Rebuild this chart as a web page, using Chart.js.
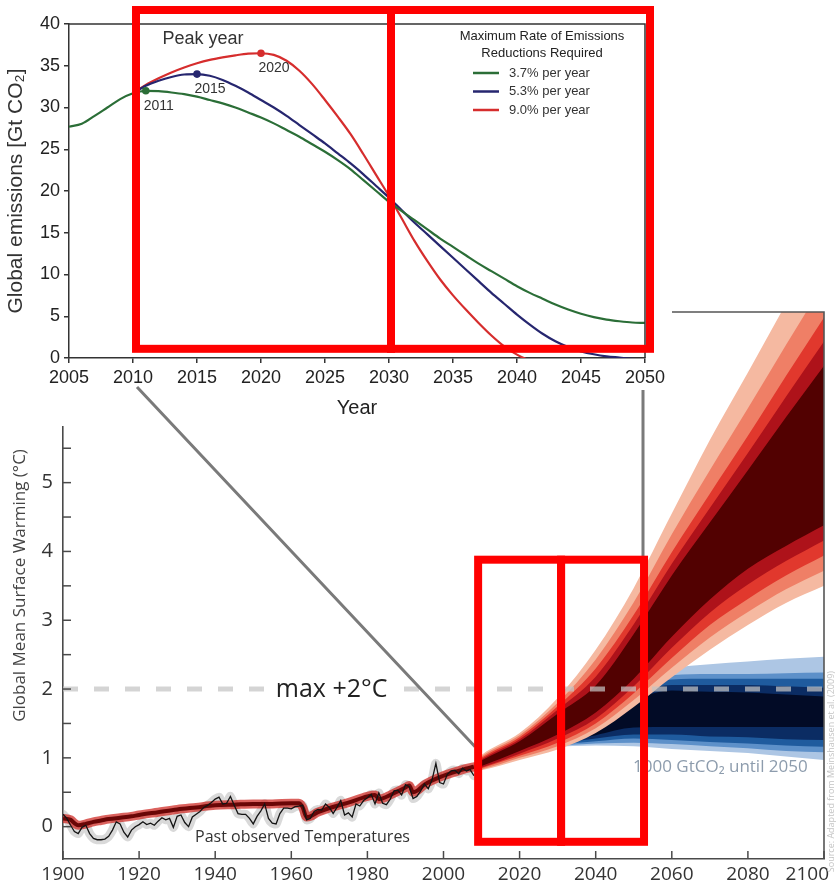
<!DOCTYPE html>
<html lang="en">
<head>
<meta charset="utf-8">
<title>Emission pathways and global mean surface warming</title>
<script src="https://cdn.jsdelivr.net/npm/chart.js@4.4.1/dist/chart.umd.min.js"></script>
<style>
  html, body { margin: 0; padding: 0; background: #fff; }
  #stage { position: relative; width: 836px; height: 886px; overflow: hidden; }
  #stage canvas { position: absolute; left: 0; top: 0; }
</style>
</head>
<body>
<div id="stage">
  <canvas id="warming" width="836" height="886" style="width:836px;height:886px"></canvas>
  <canvas id="emissions" width="836" height="886" style="width:836px;height:886px"></canvas>
</div>
<script>
// ---------- Upper panel: global CO2 emission pathways (Gt CO2 per year) ----------
const emissionYears = [2005, 2006, 2007, 2008, 2009, 2010, 2011, 2012, 2013, 2014,
  2015, 2016, 2017, 2018, 2019, 2020, 2021, 2022, 2023, 2024,
  2025, 2026, 2027, 2028, 2029, 2030, 2031, 2032, 2033, 2034,
  2035, 2036, 2037, 2038, 2039, 2040, 2041, 2042, 2043, 2044,
  2045, 2046, 2047, 2048, 2049, 2050];
const pathway37 = [27.7, 28.05, 29.0, 30.0, 31.0, 31.7, 32.0, 31.95, 31.8, 31.6,
  31.3, 30.9, 30.5, 30.0, 29.4, 28.8, 28.1, 27.3, 26.5, 25.6,
  24.7, 23.7, 22.6, 21.3, 20.0, 18.7, 17.6, 16.5, 15.4, 14.3,
  13.3, 12.3, 11.3, 10.4, 9.5, 8.6, 7.8, 7.1, 6.4, 5.8,
  5.3, 4.9, 4.6, 4.4, 4.25, 4.2];
const pathway53 = [null, null, null, null, null, 31.7, 32.6, 33.2, 33.65, 33.95,
  34.0, 33.8, 33.3, 32.6, 31.8, 30.9, 30.0, 29.0, 27.9, 26.8,
  25.7, 24.5, 23.3, 22.0, 20.6, 19.2, 17.7, 16.2, 14.8, 13.4,
  12.0, 10.6, 9.2, 7.8, 6.5, 5.2, 4.0, 2.9, 2.0, 1.3,
  0.8, 0.45, 0.2, 0.05, -0.1, -0.2];
const pathway90 = [null, null, null, null, null, 31.7, 32.7, 33.5, 34.2, 34.8,
  35.3, 35.7, 36.0, 36.25, 36.45, 36.5, 36.3, 35.6, 34.4, 32.8,
  30.9, 28.9, 26.8, 24.4, 21.9, 19.4, 16.7, 14.0, 11.6, 9.4,
  7.5, 5.8, 4.2, 2.7, 1.4, 0.4, -0.3, -0.8, -1.2, -1.5,
  -1.7, -1.9, -2.0, -2.1, -2.2, -2.3];
const pathwayLabels = ['3.7% per year', '5.3% per year', '9.0% per year'];
const pathwayColors = ['#2b6e37', '#26266f', '#d62d2d'];
const peakYears = [2011, 2015, 2020];
const emissionTicksX = [2005, 2010, 2015, 2020, 2025, 2030, 2035, 2040, 2045, 2050];
const emissionTicksY = [0, 5, 10, 15, 20, 25, 30, 35, 40];
const legendTitle = ['Maximum Rate of Emissions', 'Reductions Required'];

// ---------- Lower panel: global mean surface warming (°C) ----------
const observedStart = 1900;
const observedWarming = [
  0.18, 0.12, 0.02, -0.07, -0.10, -0.01, 0.02, -0.10, -0.17, -0.19,   // 1900s
  -0.19, -0.18, -0.14, -0.05, 0.07, 0.04, -0.08, -0.15, -0.05, 0.00,  // 1910s
  0.03, 0.07, 0.03, 0.05, 0.02, 0.08, 0.13, 0.10, 0.12, -0.01,        // 1920s
  0.15, 0.17, 0.06, 0.00, 0.14, 0.18, 0.22, 0.28, 0.31, 0.35,         // 1930s
  0.40, 0.43, 0.33, 0.34, 0.44, 0.31, 0.19, 0.18, 0.18, 0.12,         // 1940s
  0.04, 0.15, 0.23, 0.33, 0.12, 0.05, 0.04, 0.19, 0.27, 0.27,         // 1950s
  0.26, 0.29, 0.30, 0.31, 0.10, 0.12, 0.22, 0.25, 0.24, 0.33,         // 1960s
  0.28, 0.19, 0.28, 0.38, 0.17, 0.20, 0.14, 0.33, 0.30, 0.38,         // 1970s
  0.42, 0.47, 0.33, 0.49, 0.34, 0.32, 0.40, 0.52, 0.53, 0.46,         // 1980s
  0.61, 0.58, 0.41, 0.44, 0.52, 0.62, 0.55, 0.68, 0.92, 0.64,         // 1990s
  0.62, 0.76, 0.81, 0.82, 0.77, 0.85, 0.81, 0.83, 0.74                // 2000s
];
const modelYears = [1900, 1902, 1903, 1904, 1906, 1908, 1910, 1912, 1915, 1918,
  1920, 1925, 1930, 1935, 1940, 1945, 1950, 1955, 1960, 1962,
  1963, 1964, 1965, 1967, 1970, 1975, 1980, 1982, 1983, 1984,
  1986, 1990, 1991, 1992, 1993, 1995, 2000, 2005, 2008];
const modelWarming = [0.12, 0.10, 0.05, 0.02, 0.04, 0.07, 0.09, 0.11, 0.13, 0.15,
  0.17, 0.21, 0.25, 0.28, 0.31, 0.32, 0.33, 0.33, 0.34, 0.34,
  0.28, 0.14, 0.15, 0.21, 0.27, 0.35, 0.44, 0.46, 0.40, 0.41,
  0.46, 0.57, 0.60, 0.50, 0.52, 0.61, 0.74, 0.83, 0.87];

// business-as-usual projection: nested probability bands, outer (1) to inner (5)
const redFanYears = [2008, 2010, 2020, 2030, 2040, 2050, 2060, 2070, 2080, 2090, 2100];
const redLow1  = [0.80, 0.82, 0.97, 1.12, 1.36, 1.74, 2.17, 2.57, 2.93, 3.25, 3.50];
const redLow2  = [0.81, 0.83, 1.00, 1.17, 1.43, 1.84, 2.31, 2.75, 3.12, 3.45, 3.72];
const redLow3  = [0.82, 0.85, 1.03, 1.22, 1.50, 1.94, 2.45, 2.93, 3.31, 3.65, 3.94];
const redLow4  = [0.83, 0.86, 1.06, 1.28, 1.57, 2.04, 2.60, 3.11, 3.52, 3.86, 4.16];
const redLow5  = [0.84, 0.88, 1.10, 1.34, 1.66, 2.15, 2.76, 3.30, 3.75, 4.08, 4.38];
const redHigh5 = [0.89, 0.96, 1.24, 1.64, 2.05, 2.80, 3.65, 4.42, 5.18, 5.95, 6.70];
const redHigh4 = [0.90, 0.98, 1.27, 1.70, 2.18, 2.94, 3.82, 4.63, 5.43, 6.25, 7.05];
const redHigh3 = [0.91, 1.00, 1.30, 1.75, 2.30, 3.08, 3.99, 4.84, 5.68, 6.55, 7.40];
const redHigh2 = [0.92, 1.02, 1.33, 1.80, 2.43, 3.26, 4.25, 5.18, 6.08, 7.00, 7.90];
const redHigh1 = [0.93, 1.04, 1.36, 1.87, 2.57, 3.47, 4.55, 5.62, 6.60, 7.60, 8.60];
const redColors = ['#f5b9a1', '#ef7f66', '#e1382d', '#ae121a', '#520101'];

// 1000 GtCO2 budget projection
const blueFanYears = [2028, 2040, 2050, 2060, 2070, 2080, 2090, 2100];
const blueLow1  = [1.16, 1.18, 1.17, 1.13, 1.10, 1.07, 1.02, 0.97];
const blueLow2  = [1.17, 1.21, 1.22, 1.20, 1.17, 1.14, 1.10, 1.08];
const blueLow3  = [1.18, 1.24, 1.28, 1.26, 1.23, 1.21, 1.18, 1.16];
const blueLow4  = [1.19, 1.28, 1.34, 1.34, 1.31, 1.30, 1.27, 1.26];
const blueLow5  = [1.20, 1.33, 1.44, 1.45, 1.45, 1.45, 1.45, 1.45];
const blueHigh5 = [1.24, 1.62, 1.85, 1.98, 1.96, 1.95, 1.92, 1.89];
const blueHigh4 = [1.25, 1.66, 1.92, 2.06, 2.06, 2.06, 2.04, 2.02];
const blueHigh3 = [1.26, 1.70, 1.98, 2.14, 2.15, 2.15, 2.15, 2.15];
const blueHigh2 = [1.27, 1.74, 2.05, 2.20, 2.22, 2.22, 2.23, 2.24];
const blueHigh1 = [1.28, 1.80, 2.14, 2.30, 2.36, 2.40, 2.44, 2.47];
const blueColors = ['#adc6e4', '#5d90c9', '#1f5b9e', '#0b2c63', '#020b26'];

const limitYears = [1900, 2100];
const limitWarming = [2, 2];
const warmingTicksX = [1900, 1920, 1940, 1960, 1980, 2000, 2020, 2040, 2060, 2080, 2100];
const warmingTicksY = [0, 0.5, 1, 1.5, 2, 2.5, 3, 3.5, 4, 4.5, 5, 5.5, 6, 6.5, 7];

// ---------- helpers ----------
const FONT_TOP = "'Liberation Sans', Arial, sans-serif";
const FONT_LOW = "'Open Sans', 'DejaVu Sans', sans-serif";
const pts = (xs, ys) => xs.map((x, i) => ({ x, y: ys[i] }));

// ---------- lower chart datasets ----------
const warmingDatasets = [];
function addBand(years, lo, hi, color, order) {
  const loIndex = warmingDatasets.length;
  const common = { pointRadius: 0, borderWidth: 0, borderColor: 'transparent',
                   cubicInterpolationMode: 'monotone', order };
  warmingDatasets.push(Object.assign({ data: pts(years, lo), fill: false }, common));
  warmingDatasets.push(Object.assign({ data: pts(years, hi), fill: { target: loIndex },
                                       backgroundColor: color }, common));
}
const blueLows = [blueLow1, blueLow2, blueLow3, blueLow4, blueLow5];
const blueHighs = [blueHigh1, blueHigh2, blueHigh3, blueHigh4, blueHigh5];
blueLows.forEach((lo, k) => addBand(blueFanYears, lo, blueHighs[k], blueColors[k], 95 - k));
const redLows = [redLow1, redLow2, redLow3, redLow4, redLow5];
const redHighs = [redHigh1, redHigh2, redHigh3, redHigh4, redHigh5];
redLows.forEach((lo, k) => addBand(redFanYears, lo, redHighs[k], redColors[k], 85 - k));

const observedYears = observedWarming.map((_, i) => observedStart + i);
warmingDatasets.push({ // spread of the observational record
  data: pts(observedYears, observedWarming), borderColor: 'rgba(170,170,170,0.45)',
  borderWidth: 9, pointRadius: 0, tension: 0.2, order: 30,
  borderJoinStyle: 'round', borderCapStyle: 'round' });
warmingDatasets.push({ // model ensemble, outer
  data: pts(modelYears, modelWarming), borderColor: 'rgba(205,38,32,0.72)',
  borderWidth: 9, pointRadius: 0, cubicInterpolationMode: 'monotone', order: 25,
  borderCapStyle: 'round' });
warmingDatasets.push({ // model ensemble, core
  data: pts(modelYears, modelWarming), borderColor: '#6a0606',
  borderWidth: 4, pointRadius: 0, cubicInterpolationMode: 'monotone', order: 24 });
warmingDatasets.push({ // observed temperatures
  data: pts(observedYears, observedWarming), borderColor: '#141414',
  borderWidth: 1.3, pointRadius: 0, tension: 0, order: 10 });
warmingDatasets.push({ // 2 °C limit
  data: pts(limitYears, limitWarming), borderColor: 'rgba(196,196,196,0.72)',
  borderWidth: 5, borderDash: [15, 16], pointRadius: 0, order: 5 });

const warmingDecor = {
  id: 'warmingDecor',
  beforeDraw(chart) {
    const { ctx } = chart;
    ctx.save();
    ctx.fillStyle = '#ffffff';
    ctx.fillRect(0, 0, chart.width, chart.height);
    ctx.restore();
  },
  afterDraw(chart) {
    const { ctx, chartArea: a, scales: { x, y } } = chart;
    ctx.save();
    // frame top and right
    ctx.strokeStyle = '#555';
    ctx.lineWidth = 1.6;
    ctx.beginPath();
    ctx.moveTo(a.left, a.top);
    ctx.lineTo(a.right, a.top);
    ctx.lineTo(a.right, a.bottom);
    ctx.stroke();
    // inward tick marks
    ctx.strokeStyle = '#4a4a4a';
    ctx.lineWidth = 1.5;
    y.ticks.forEach(t => {
      const py = y.getPixelForValue(t.value);
      ctx.beginPath(); ctx.moveTo(a.left, py); ctx.lineTo(a.left + 8, py); ctx.stroke();
    });
    x.ticks.forEach(t => {
      const px = x.getPixelForValue(t.value);
      ctx.beginPath(); ctx.moveTo(px, a.bottom); ctx.lineTo(px, a.bottom - 8); ctx.stroke();
    });
    // year labels (the last one kept inside the page)
    ctx.font = '19px ' + FONT_LOW;
    ctx.fillStyle = '#333';
    ctx.textAlign = 'center';
    ctx.textBaseline = 'middle';
    x.ticks.forEach(t => {
      const s = String(t.value);
      const w = ctx.measureText(s).width;
      const px = Math.min(x.getPixelForValue(t.value), chart.width - 7 - w / 2);
      ctx.fillText(s, px, a.bottom + 16);
    });
    // 2 °C label on a white patch
    const ly = y.getPixelForValue(2);
    const lx = x.getPixelForValue(1970.6);
    ctx.font = '25px ' + FONT_LOW;
    const lw = ctx.measureText('max +2°C').width;
    ctx.fillStyle = '#ffffff';
    ctx.fillRect(lx - lw / 2 - 8, ly - 6, lw + 16, 12);
    ctx.fillStyle = '#222';
    ctx.fillText('max +2°C', lx, ly + 1);
    // annotations
    ctx.textAlign = 'left';
    ctx.font = '16px ' + FONT_LOW;
    ctx.fillStyle = '#333';
    ctx.fillText('Past observed Temperatures', x.getPixelForValue(1934.7), y.getPixelForValue(-0.15));
    ctx.font = '17px ' + FONT_LOW;
    ctx.fillStyle = '#8d9cad';
    ctx.fillText('1000 GtCO\u2082 until 2050', x.getPixelForValue(2049.8), y.getPixelForValue(0.86));
    // source note along the right edge
    ctx.translate(chart.width - 5, y.getPixelForValue(0.8));
    ctx.rotate(-Math.PI / 2);
    ctx.font = '9px ' + FONT_LOW;
    ctx.fillStyle = '#c4c4c4';
    ctx.textAlign = 'center';
    ctx.fillText('Source: Adapted from Meinshausen et al. (2009)', 0, 0);
    ctx.restore();
  }
};

const warmingChart = new Chart(document.getElementById('warming'), {
  type: 'line',
  data: { datasets: warmingDatasets },
  options: {
    responsive: false, animation: false, devicePixelRatio: 1, events: [],
    layout: { padding: { top: 312, right: 12, bottom: 0, left: 0 } },
    plugins: { legend: { display: false }, tooltip: { enabled: false } },
    scales: {
      x: {
        type: 'linear', min: 1900, max: 2100,
        afterBuildTicks: s => { s.ticks = warmingTicksX.map(v => ({ value: v })); },
        afterFit: s => { s.height = 27; s.paddingLeft = 0; s.paddingRight = 0; },
        grid: { display: false, drawTicks: false },
        border: { display: true, color: '#4a4a4a', width: 1.6 },
        ticks: { display: false }
      },
      y: {
        type: 'linear', min: -0.47, max: 7.48,
        afterBuildTicks: s => { s.ticks = warmingTicksY.map(v => ({ value: v })); },
        afterFit: s => { s.width = 63; },
        grid: { display: false, drawTicks: false },
        border: { display: true, color: '#4a4a4a', width: 1.6 },
        ticks: { padding: 10, color: '#333', autoSkip: false,
                 font: { family: FONT_LOW, size: 20 },
                 callback: v => Number.isInteger(v) ? String(v) : '' },
        title: { display: true, text: 'Global Mean Surface Warming (°C)', color: '#444',
                 font: { family: FONT_LOW, size: 17 }, padding: { top: 10, bottom: 0 } }
      }
    }
  },
  plugins: [warmingDecor]
});

// ---------- upper chart ----------
const pathways = [pathway37, pathway53, pathway90];
const PANEL_W = 672, PANEL_H = 426;

const emissionsDecor = {
  id: 'emissionsDecor',
  beforeDraw(chart) {
    const { ctx } = chart;
    ctx.save();
    ctx.fillStyle = '#ffffff';
    ctx.fillRect(0, 0, PANEL_W, PANEL_H);
    ctx.restore();
  },
  afterDraw(chart) {
    const { ctx, chartArea: a, scales: { x, y } } = chart;
    ctx.save();
    // frame top and right
    ctx.strokeStyle = '#333';
    ctx.lineWidth = 1.5;
    ctx.beginPath();
    ctx.moveTo(a.left, a.top); ctx.lineTo(a.right, a.top); ctx.lineTo(a.right, a.bottom);
    ctx.stroke();

    // peak-year labels
    ctx.font = '14px ' + FONT_TOP;
    ctx.fillStyle = '#333';
    ctx.textAlign = 'center';
    ctx.textBaseline = 'middle';
    peakYears.forEach((yr, k) => {
      const el = chart.getDatasetMeta(k).data[emissionYears.indexOf(yr)];
      ctx.fillText(String(yr), el.x + 13, el.y + 15);
    });
    ctx.font = '18px ' + FONT_TOP;
    ctx.textAlign = 'left';
    ctx.fillText('Peak year', x.getPixelForValue(2012.3), y.getPixelForValue(38.2));

    // legend
    const cx = a.right - 103;
    ctx.font = '13px ' + FONT_TOP;
    ctx.fillStyle = '#222';
    ctx.textAlign = 'center';
    legendTitle.forEach((line, i) => ctx.fillText(line, cx, a.top + 12 + i * 17));
    ctx.textAlign = 'left';
    chart.data.datasets.forEach((ds, i) => {
      const ly = a.top + 49 + i * 18.5;
      ctx.strokeStyle = ds.borderColor;
      ctx.lineWidth = 2.5;
      ctx.beginPath(); ctx.moveTo(cx - 69, ly); ctx.lineTo(cx - 43, ly); ctx.stroke();
      ctx.fillStyle = '#333';
      ctx.fillText(ds.label, cx - 33, ly);
    });

    // connectors between the two panels
    const bx = warmingChart.scales.x, by = warmingChart.scales.y;
    ctx.strokeStyle = '#7a7a7a';
    ctx.lineWidth = 3;
    ctx.beginPath();
    ctx.moveTo(x.getPixelForValue(2010) + 4, a.bottom + 29);
    ctx.lineTo(bx.getPixelForValue(2008.3), by.getPixelForValue(1.16));
    ctx.moveTo(x.getPixelForValue(2050) - 2, a.bottom + 32);
    ctx.lineTo(x.getPixelForValue(2050) - 2, by.getPixelForValue(3.88));
    ctx.stroke();

    // highlighted periods 2010-2030 and 2030-2050
    ctx.strokeStyle = '#ff0000';
    ctx.lineWidth = 8;
    const t1 = x.getPixelForValue(2010) + 3, t2 = x.getPixelForValue(2030) + 2,
          t3 = x.getPixelForValue(2050) + 5;
    const tTop = a.top - 14, tBot = y.getPixelForValue(1.1);
    ctx.strokeRect(t1, tTop, t2 - t1, tBot - tTop);
    ctx.strokeRect(t2, tTop, t3 - t2, tBot - tTop);
    const b1 = bx.getPixelForValue(2009.1), b2 = bx.getPixelForValue(2030.9),
          b3 = bx.getPixelForValue(2052.7);
    const bTop = by.getPixelForValue(3.88), bBot = by.getPixelForValue(-0.22);
    ctx.strokeRect(b1, bTop, b2 - b1, bBot - bTop);
    ctx.strokeRect(b2, bTop, b3 - b2, bBot - bTop);
    ctx.restore();
  }
};

const emissionsChart = new Chart(document.getElementById('emissions'), {
  type: 'line',
  data: {
    datasets: pathways.map((series, k) => ({
      label: pathwayLabels[k],
      data: pts(emissionYears, series),
      borderColor: pathwayColors[k],
      backgroundColor: pathwayColors[k],
      borderWidth: 2.2,
      cubicInterpolationMode: 'monotone',
      pointRadius: c => (c.raw && c.raw.x === peakYears[k]) ? 3.8 : 0,
      pointBorderWidth: 0,
      clip: { left: 1, top: 8, right: 1, bottom: 0 }
    }))
  },
  options: {
    responsive: false, animation: false, devicePixelRatio: 1, events: [],
    layout: { padding: { top: 24, right: 191, bottom: 460, left: 0 } },
    plugins: { legend: { display: false }, tooltip: { enabled: false } },
    scales: {
      x: {
        type: 'linear', min: 2005, max: 2050,
        afterBuildTicks: s => { s.ticks = emissionTicksX.map(v => ({ value: v })); },
        afterFit: s => { s.height = 68; },
        grid: { display: true, drawOnChartArea: false, drawTicks: true, tickLength: 5,
                color: '#333', lineWidth: 1.5 },
        border: { display: true, color: '#333', width: 1.5 },
        ticks: { padding: 4, color: '#222', autoSkip: false, maxRotation: 0,
                 font: { family: FONT_TOP, size: 18 }, callback: v => String(v) },
        title: { display: true, text: 'Year', color: '#222',
                 font: { family: FONT_TOP, size: 20 }, padding: { top: 0, bottom: 6 } }
      },
      y: {
        type: 'linear', min: 0, max: 40,
        afterBuildTicks: s => { s.ticks = emissionTicksY.map(v => ({ value: v })); },
        afterFit: s => { s.width = 69; },
        grid: { display: true, drawOnChartArea: false, drawTicks: true, tickLength: 5,
                color: '#333', lineWidth: 1.5 },
        border: { display: true, color: '#333', width: 1.5 },
        ticks: { padding: 4, color: '#222', autoSkip: false,
                 font: { family: FONT_TOP, size: 18 }, callback: v => String(v) },
        title: { display: true, text: 'Global emissions [Gt CO\u2082]', color: '#333',
                 font: { family: FONT_TOP, size: 21 }, padding: { top: 4, bottom: 0 } }
      }
    }
  },
  plugins: [emissionsDecor]
});
</script>
</body>
</html>
